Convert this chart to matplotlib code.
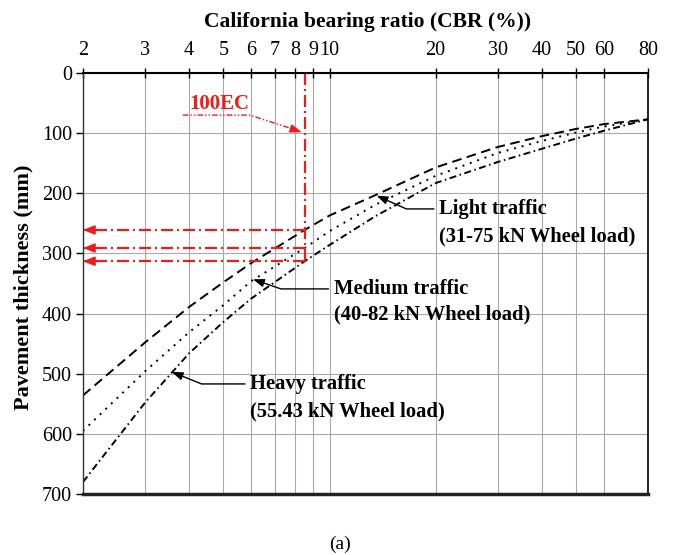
import matplotlib
matplotlib.use("Agg")
import matplotlib.pyplot as plt
from matplotlib.ticker import NullLocator

plt.rcParams['font.family'] = ['Liberation Serif', 'DejaVu Serif']

# ---------------- data ----------------
cbr = [2, 3, 4, 5, 6, 8.5, 10, 13.5, 20, 30, 40, 50, 60, 80]
light = [536, 448, 389, 348, 316, 261, 237, 203, 157, 123, 105, 93, 85, 77]
medium = [595, 496, 431, 386, 346, 291, 263, 219, 171, 133, 113, 99, 89, 77]
heavy = [680, 548, 466, 414, 375, 313, 286, 238, 183, 148, 126, 109, 96, 77]

design_cbr = 8.5
design_thick = [261, 291, 313]

xtick_vals = [2, 3, 4, 5, 6, 7, 8, 9, 10, 20, 30, 40, 50, 60, 80]
xtick_labels = [str(v) for v in xtick_vals]
ytick_vals = [0, 100, 200, 300, 400, 500, 600, 700]

RED = '#ee1c1c'
FS_ANN = 14.8

fig = plt.figure(figsize=(6.74, 5.55), dpi=100)
ax = fig.add_axes([83/674, 1-494/555, (648-83)/674, (494-73)/555])

ax.set_xscale('log')
ax.set_xlim(2, 80)
ax.set_ylim(700, 0)
ax.xaxis.tick_top()
ax.set_xticks(xtick_vals)
ax.set_xticklabels(xtick_labels)
ax.xaxis.set_minor_locator(NullLocator())
ax.set_yticks(ytick_vals)
ax.tick_params(axis='x', which='major', direction='inout', length=7, width=1, labelsize=14.5, pad=6)
ax.tick_params(axis='y', which='major', direction='out', length=5, width=1, labelsize=14.5, pad=3)
ax.grid(True, which='major', color='#a8a8a8', lw=0.8)
ax.set_axisbelow(True)

ax.spines['top'].set_linewidth(1.5)
ax.spines['bottom'].set_linewidth(2.5)
ax.spines['bottom'].set_color('#222222')
ax.spines['left'].set_linewidth(1.0)
ax.spines['left'].set_color('#333333')
ax.spines['right'].set_linewidth(1.2)

ax.xaxis.set_label_position('top')
ax.set_xlabel('California bearing ratio (CBR (%))', fontsize=15.5, fontweight='bold')
ax.xaxis.set_label_coords(0.503, 1.11)
ax.set_ylabel('Pavement thickness (mm)', fontsize=16, fontweight='bold')
ax.yaxis.set_label_coords(-0.087, 0.49)

# curves
ax.plot(cbr, light, color='black', lw=1.4, ls=(0, (5, 2.8)))
ax.plot(cbr, medium, color='black', lw=1.4, ls=(0, (1, 3)))
ax.plot(cbr, heavy, color='black', lw=1.4, ls=(0, (3.6, 1.8, 0.8, 1.8)))

# red design lines
red_ls = (0, (5.4, 1.8, 0.9, 1.8))
ax.plot([design_cbr, design_cbr], [0, max(design_thick)], color=RED, lw=1.6, ls=red_ls, clip_on=False)
for t in design_thick:
    ax.plot([design_cbr, 2.08], [t, t], color=RED, lw=1.6, ls=red_ls)
    ax.annotate('', xy=(2.0, t), xytext=(2.03, t),
                arrowprops=dict(arrowstyle='-|>,head_length=0.7,head_width=0.28',
                                color=RED, lw=1.2, shrinkA=0, shrinkB=0, mutation_scale=10))

# 100EC label
ax.text(4.0, 52, '100EC', color=RED, fontsize=15, fontweight='bold', ha='left', va='center')
ax.plot([3.84, 5.94, 8.15], [70, 70, 96], color=RED, lw=1.0, ls=(0, (4, 1.5, 1, 1.5, 1, 1.5)))
ax.annotate('', xy=(8.35, 98.5), xytext=(-3, 1), textcoords='offset points',
            arrowprops=dict(arrowstyle='-|>,head_length=0.7,head_width=0.25',
                            color=RED, lw=1.0, shrinkA=0, shrinkB=0, mutation_scale=10))

# black annotations
def label(xy, xytext, angleB, line1, line2, y2):
    ax.annotate(line1, xy=xy, xytext=xytext, fontsize=FS_ANN, fontweight='bold',
                ha='left', va='center',
                arrowprops=dict(arrowstyle='-|>,head_length=0.6,head_width=0.22',
                                connectionstyle=f'angle,angleA=0,angleB={angleB},rad=0',
                                color='black', lw=1.0, shrinkA=2, shrinkB=0,
                                mutation_scale=11))
    ax.text(xytext[0], y2, line2, fontsize=FS_ANN, fontweight='bold', ha='left', va='center')

label((13.6, 204), (20.5, 226), 156, 'Light traffic', '(31-75 kN Wheel load)', 271)
label((6.07, 343), (10.3, 359), 161, 'Medium traffic', '(40-82 kN Wheel load)', 401)
label((3.57, 497), (5.97, 517), 158, 'Heavy traffic', '(55.43 kN Wheel load)', 563)

fig.text(340/674, 1-544/555, '(a)', fontsize=14, ha='center', va='center')

fig.savefig('out.png', dpi=100)
